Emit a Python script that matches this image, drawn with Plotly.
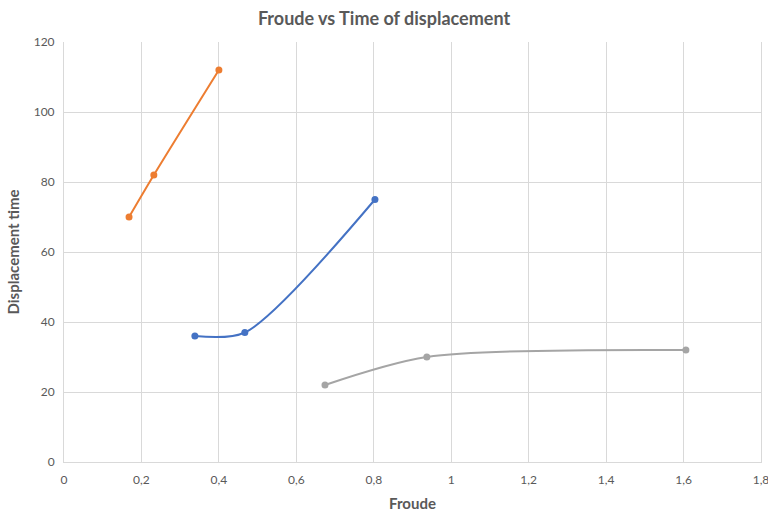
import plotly.graph_objects as go

# Froude number vs displacement time, three test series
froude_a = [0.168, 0.232, 0.400]
time_a = [70, 82, 112]

froude_b = [0.338, 0.467, 0.803]
time_b = [36, 37, 75]

froude_c = [0.674, 0.937, 1.606]
time_c = [22, 30, 32]

x_ticks = [0, 0.2, 0.4, 0.6, 0.8, 1, 1.2, 1.4, 1.6, 1.8]
x_tick_labels = ["0", "0,2", "0,4", "0,6", "0,8", "1", "1,2", "1,4", "1,6", "1,8"]
y_ticks = [0, 20, 40, 60, 80, 100, 120]

FONT = "Lato, Open Sans, sans-serif"
TEXT_GREY = "#595959"
GRID = "#d9d9d9"

fig = go.Figure()
for xs, ys, color in [
    (froude_b, time_b, "#4472c4"),
    (froude_a, time_a, "#ed7d31"),
    (froude_c, time_c, "#a5a5a5"),
]:
    fig.add_trace(go.Scatter(
        x=xs, y=ys, mode="lines+markers",
        line=dict(color=color, width=2, shape="spline", smoothing=0.8),
        marker=dict(color=color, size=7),
        showlegend=False,
    ))

fig.update_layout(
    width=768, height=512,
    margin=dict(l=64, r=7, t=42, b=50),
    paper_bgcolor="white", plot_bgcolor="white",
    font=dict(family=FONT, color=TEXT_GREY, size=12),
    title=dict(text="<b>Froude vs Time of displacement</b>",
               x=0.5, xanchor="center", y=0.963, yanchor="middle",
               font=dict(family=FONT, size=18, color=TEXT_GREY)),
)
fig.update_xaxes(
    range=[0, 1.8], tickvals=x_ticks, ticktext=x_tick_labels,
    showgrid=True, gridcolor=GRID, gridwidth=1,
    zeroline=False, showline=True, linecolor=GRID, linewidth=1,
    ticks="", tickfont=dict(size=12, color=TEXT_GREY),
    ticklabelstandoff=7,
    ticklabeloverflow="allow", automargin=False,
    title=dict(text="<b>Froude</b>", font=dict(size=15, color=TEXT_GREY), standoff=12),
)
fig.update_yaxes(
    range=[0, 120], tickvals=y_ticks,
    showgrid=True, gridcolor=GRID, gridwidth=1,
    zeroline=False, showline=True, linecolor=GRID, linewidth=1, mirror=True,
    ticks="", tickfont=dict(size=12, color=TEXT_GREY),
    ticklabelstandoff=6, automargin=False,
    title=dict(text="<b>Displacement time</b>", font=dict(size=15, color=TEXT_GREY), standoff=10),
)

fig.write_html("out.html")
